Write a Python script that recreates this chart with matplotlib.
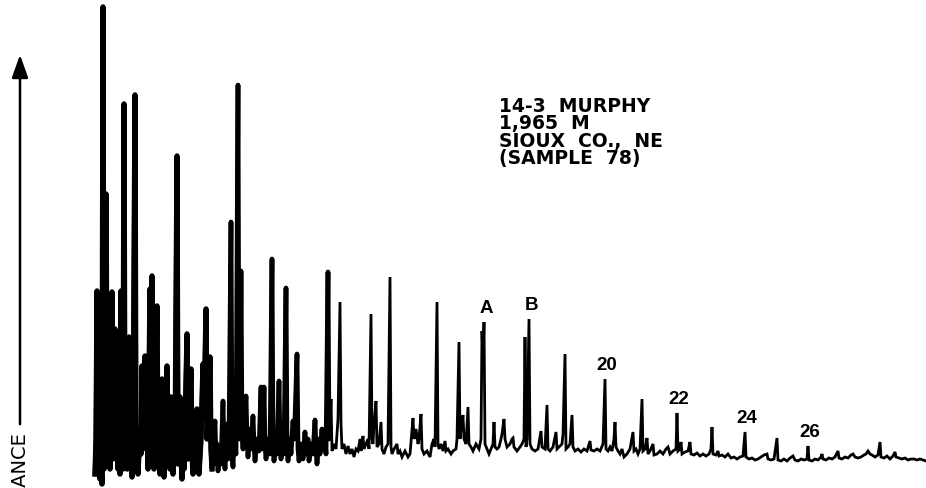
import matplotlib
matplotlib.use("Agg")
import matplotlib.pyplot as plt
import numpy as np

# chromatogram trace: scan position and detector response (apexes and troughs)
scan = [95, 96, 97, 98, 99, 100, 101, 102, 103, 104, 105, 106, 107, 108, 109, 110,
        112, 113, 114, 115, 116, 117, 118, 119, 120, 121, 122, 123, 124, 125, 126, 127,
        128, 129, 130, 131, 132, 133, 135, 136, 137, 138, 140, 141, 142, 143, 144, 145,
        146, 147, 148, 150, 151, 152, 153, 154, 155, 157, 158, 159, 160, 162, 163, 164,
        165, 167, 168, 169, 170, 171, 172, 173, 174, 175, 177, 178, 179, 180, 181, 182,
        183, 184, 185, 187, 188, 189, 191, 192, 193, 194, 195, 197, 198, 199, 201, 203,
        204, 206, 207, 208, 210, 211, 212, 213, 215, 216, 217, 218, 220, 221, 223, 224,
        225, 227, 228, 229, 231, 232, 233, 234, 236, 238, 239, 240, 241, 242, 243, 244,
        246, 247, 248, 250, 251, 253, 254, 255, 257, 259, 261, 262, 263, 264, 265, 266,
        268, 270, 272, 273, 274, 276, 277, 279, 280, 281, 283, 284, 286, 287, 288, 290,
        291, 293, 294, 295, 297, 298, 299, 301, 303, 305, 306, 308, 309, 311, 313, 315,
        316, 317, 319, 320, 322, 323, 325, 326, 328, 329, 330, 331, 332, 334, 336, 338,
        340, 341, 342, 344, 346, 348, 350, 352, 354, 356, 358, 360, 361, 363, 364, 366,
        368, 369, 371, 372, 373, 374, 376, 377, 379, 381, 382, 384, 386, 388, 390, 391,
        392, 394, 397, 398, 400, 402, 405, 408, 410, 413, 414, 416, 418, 419, 421, 422,
        424, 427, 430, 432, 434, 435, 437, 438, 439, 441, 443, 445, 446, 448, 451, 453,
        456, 457, 459, 460, 461, 463, 464, 466, 468, 469, 471, 473, 476, 479, 481, 482,
        483, 484, 485, 487, 489, 491, 493, 494, 495, 497, 499, 501, 502, 504, 505, 507,
        510, 512, 513, 514, 517, 520, 522, 524, 525, 526, 527, 529, 530, 532, 535, 538,
        541, 542, 545, 547, 548, 550, 553, 556, 557, 559, 562, 563, 565, 566, 568, 570,
        572, 573, 575, 578, 581, 584, 587, 590, 591, 594, 597, 600, 603, 605, 606, 608,
        610, 612, 614, 615, 616, 618, 620, 622, 624, 627, 630, 633, 634, 636, 638, 640,
        642, 643, 645, 647, 648, 650, 653, 654, 657, 660, 663, 666, 668, 670, 673, 676,
        677, 678, 680, 681, 682, 685, 688, 690, 691, 694, 697, 700, 703, 706, 709, 711,
        712, 713, 716, 718, 719, 722, 725, 728, 731, 734, 737, 740, 743, 745, 746, 749,
        752, 755, 758, 761, 764, 767, 768, 771, 774, 777, 778, 781, 784, 787, 790, 793,
        795, 798, 801, 804, 807, 808, 809, 812, 815, 818, 821, 822, 823, 826, 829, 832,
        835, 838, 839, 842, 845, 848, 851, 853, 855, 858, 861, 864, 866, 868, 870, 872,
        875, 878, 880, 881, 884, 887, 890, 893, 895, 896, 899, 902, 905, 908, 911, 914,
        917, 920, 923, 926]
response = [14, 49, 197, 19, 137, 9, 29, 4, 481, 19, 49, 294, 109, 39, 104, 19,
            196, 29, 89, 159, 69, 136, 19, 49, 14, 197, 39, 19, 384, 29, 69, 19,
            59, 151, 19, 44, 11, 34, 393, 24, 49, 14, 59, 34, 122, 89, 49, 132,
            39, 69, 19, 199, 159, 212, 49, 19, 59, 182, 24, 59, 14, 109, 34, 11,
            49, 122, 39, 69, 19, 91, 39, 14, 44, 29, 332, 24, 49, 91, 34, 9,
            44, 19, 59, 154, 29, 69, 119, 34, 14, 49, 21, 79, 29, 14, 49, 124,
            69, 179, 49, 69, 131, 39, 19, 44, 67, 24, 44, 17, 39, 24, 87, 34,
            19, 64, 29, 49, 266, 34, 21, 49, 34, 403, 49, 79, 217, 54, 39, 59,
            92, 49, 31, 59, 39, 72, 44, 27, 49, 37, 101, 39, 59, 101, 44, 29,
            49, 34, 229, 44, 27, 49, 34, 107, 44, 29, 44, 34, 200, 41, 27, 49,
            34, 67, 49, 69, 134, 39, 27, 44, 29, 56, 34, 49, 27, 44, 34, 68,
            39, 24, 49, 34, 59, 39, 49, 34, 216, 49, 59, 89, 37, 44, 39, 69,
            186, 64, 39, 44, 34, 42, 34, 39, 31, 39, 37, 49, 37, 52, 39, 44,
            49, 39, 174, 49, 44, 64, 87, 41, 44, 66, 39, 34, 41, 44, 211, 41,
            34, 39, 44, 34, 37, 31, 37, 31, 34, 70, 49, 59, 44, 49, 74, 39,
            34, 37, 31, 44, 49, 41, 186, 44, 39, 44, 37, 47, 37, 39, 34, 37,
            39, 49, 146, 49, 59, 73, 49, 44, 81, 44, 41, 37, 44, 39, 49, 157,
            129, 166, 44, 39, 34, 39, 44, 66, 41, 39, 41, 49, 54, 69, 49, 41,
            44, 49, 50, 41, 37, 41, 44, 49, 151, 41, 49, 169, 44, 39, 37, 39,
            57, 41, 39, 83, 39, 37, 41, 56, 39, 41, 44, 54, 134, 39, 41, 44,
            73, 41, 37, 39, 36, 39, 37, 47, 38, 37, 39, 37, 44, 109, 39, 37,
            41, 37, 49, 66, 41, 37, 34, 39, 31, 34, 39, 56, 37, 39, 34, 39,
            89, 37, 39, 50, 34, 37, 44, 33, 34, 37, 34, 39, 41, 34, 37, 39,
            75, 37, 39, 46, 34, 36, 37, 46, 34, 33, 35, 32, 34, 32, 34, 39,
            61, 34, 33, 37, 32, 33, 31, 34, 30, 31, 29, 31, 32, 56, 31, 29,
            30, 28, 29, 31, 33, 34, 29, 28, 29, 50, 28, 27, 29, 27, 30, 32,
            28, 27, 29, 28, 29, 42, 28, 27, 29, 28, 31, 34, 29, 28, 30, 29,
            31, 37, 30, 29, 31, 30, 33, 34, 31, 30, 31, 33, 34, 37, 34, 33,
            31, 33, 46, 31, 30, 32, 29, 32, 36, 31, 30, 29, 30, 28, 29, 29,
            28, 29, 28, 27]

# labelled peaks (scan position of the apex)
peak_names = ["A", "B", "20", "22", "24", "26"]
peak_scans = [484, 529, 605, 677, 745, 808]

sample_info = ["14-3  MURPHY", "1,965  M", "SIOUX  CO.,  NE", "(SAMPLE  78)"]

fig = plt.figure(figsize=(9.26, 4.89), dpi=100)
ax = fig.add_axes([0, 0, 1, 1])
ax.set_xlim(0, 926)
ax.set_ylim(0, 489)
ax.axis("off")

x = np.array(scan)
y = np.array(response)
ax.plot(x, y, color="black", lw=2.0, solid_joinstyle="miter")
# the early unresolved hump smears out much heavier on the trace
mid = x <= 330
ax.plot(x[mid], y[mid], color="black", lw=3.4)
early = x <= 212
ax.plot(x[early], y[early], color="black", lw=3.8)

for name, pos in zip(peak_names, peak_scans):
    top = response[scan.index(pos)]
    ax.annotate(name, (pos, top), xytext=(1.5, 7), textcoords="offset points",
                ha="center", va="baseline", fontsize=13.5, fontweight="bold",
                family="Liberation Sans")

for i, line in enumerate(sample_info):
    ax.text(499, 392 - i * 17.5, line, ha="left", va="top", fontsize=13.5,
            fontweight="bold", family="DejaVu Sans")

# y-axis arrow and its label
ax.annotate("", xy=(20, 436), xytext=(20, 61),
            arrowprops=dict(arrowstyle="-|>,head_length=1.4,head_width=0.5",
                            lw=1.8, color="black"))
ax.text(20, 57, "ABUNDANCE", rotation=90, ha="center", va="top",
        fontsize=14, family="DejaVu Sans")

fig.savefig("out.png", dpi=100)
